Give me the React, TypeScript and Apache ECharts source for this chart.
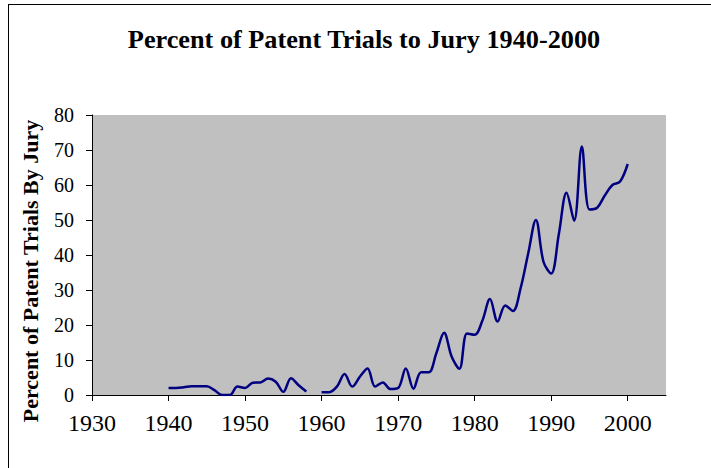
import React, { useEffect, useRef } from "react";
import * as echarts from "echarts";

const titleText = "Percent of Patent Trials to Jury 1940-2000";
const yAxisName = "Percent of Patent Trials By Jury";

const years: number[] = [
  1940, 1941, 1942, 1943, 1944, 1945, 1946, 1947, 1948, 1949,
  1950, 1951, 1952, 1953, 1954, 1955, 1956, 1957, 1958, 1959,
  1960, 1961, 1962, 1963, 1964, 1965, 1966, 1967, 1968, 1969,
  1970, 1971, 1972, 1973, 1974, 1975, 1976, 1977, 1978, 1979,
  1980, 1981, 1982, 1983, 1984, 1985, 1986, 1987, 1988, 1989,
  1990, 1991, 1992, 1993, 1994, 1995, 1996, 1997, 1998, 1999,
  2000,
];

const juryPercent: (number | null)[] = [
  2, 2, 2.2, 2.5, 2.5, 2.5, 1.4, 0, 0, 2.4,
  2, 3.5, 3.6, 4.7, 3.8, 0.9, 4.8, 2.8, 1, null,
  0.8, 0.8, 2.4, 6, 2.4, 5.2, 7.6, 2.4, 3.6, 1.7,
  2, 7.6, 1.8, 6.5, 6.5, 12, 17.8, 10.9, 7.5, 17.6,
  17.2, 21.2, 27.4, 21, 25.6, 24, 30.5, 40.5, 50, 38,
  34.7, 46, 57.8, 49.8, 71, 53, 53.5, 57, 60, 61,
  66,
];

const xTicks: number[] = [1930, 1940, 1950, 1960, 1970, 1980, 1990, 2000];
const yTicks: number[] = [0, 10, 20, 30, 40, 50, 60, 70, 80];

const SERIF = "'Liberation Serif', 'Times New Roman', serif";

export default function App() {
  const ref = useRef<HTMLDivElement>(null);

  useEffect(() => {
    if (!ref.current) return;
    const chart = echarts.init(ref.current, null, { renderer: "svg" });
    const data = years.map((y, i) => [y, juryPercent[i]]);
    chart.setOption({
      animation: false,
      backgroundColor: "#ffffff",
      graphic: [
        {
          type: "line",
          shape: { x1: 8, y1: 4.5, x2: 711, y2: 4.5 },
          style: { stroke: "#000", lineWidth: 1 },
        },
        {
          type: "line",
          shape: { x1: 8.5, y1: 4, x2: 8.5, y2: 468 },
          style: { stroke: "#000", lineWidth: 1 },
        },
        {
          type: "text",
          x: 364,
          y: 40,
          scaleX: 1.05,
          style: {
            text: titleText,
            fontFamily: SERIF,
            fontWeight: "bold",
            fontSize: 25,
            fill: "#000",
            align: "center",
            verticalAlign: "middle",
          },
        },
        {
          type: "text",
          x: 30,
          y: 271,
          rotation: Math.PI / 2,
          style: {
            text: yAxisName,
            fontFamily: SERIF,
            fontWeight: "bold",
            fontSize: 22,
            fill: "#000",
            align: "center",
            verticalAlign: "middle",
          },
        },
      ],
      grid: {
        left: 92,
        top: 115,
        width: 574,
        height: 280,
        show: true,
        backgroundColor: "#C0C0C0",
        borderWidth: 0,
      },
      xAxis: {
        type: "value",
        min: 1930,
        max: 2005,
        interval: 10,
        axisLine: { show: true, onZero: false, lineStyle: { color: "#000", width: 1 } },
        axisTick: {
          show: true,
          inside: false,
          length: 6,
          customValues: xTicks,
          lineStyle: { color: "#000" },
        },
        axisLabel: {
          customValues: xTicks,
          fontFamily: SERIF,
          fontSize: 24,
          color: "#000",
          margin: 16,
          formatter: (v: number) => String(v),
        },
        splitLine: { show: false },
      },
      yAxis: {
        type: "value",
        min: 0,
        max: 80,
        interval: 10,
        axisLine: { show: true, lineStyle: { color: "#000", width: 1 } },
        axisTick: {
          show: true,
          inside: false,
          length: 6,
          customValues: yTicks,
          lineStyle: { color: "#000" },
        },
        axisLabel: {
          customValues: yTicks,
          fontFamily: SERIF,
          fontSize: 20,
          color: "#000",
          margin: 18,
        },
        splitLine: { show: false },
      },
      series: [
        {
          type: "line",
          data,
          showSymbol: false,
          smooth: 0.35,
          connectNulls: false,
          lineStyle: { color: "#000080", width: 2.5 },
          itemStyle: { color: "#000080" },
        },
      ],
    });
    return () => chart.dispose();
  }, []);

  return (
    <div
      ref={ref}
      style={{ position: "fixed", left: 0, top: 0, width: 711, height: 468 }}
    />
  );
}
